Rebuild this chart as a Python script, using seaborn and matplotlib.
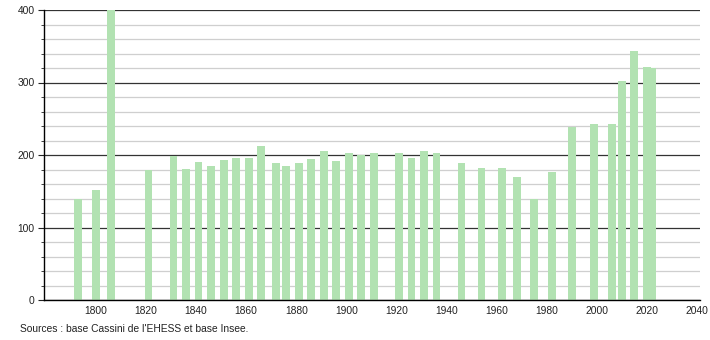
import numpy as np
import pandas as pd
import matplotlib
matplotlib.use("Agg")
import matplotlib.pyplot as plt
from matplotlib.ticker import MultipleLocator
import seaborn as sns

years = [1793, 1800, 1806, 1821, 1831, 1836, 1841, 1846, 1851, 1856, 1861, 1866,
         1872, 1876, 1881, 1886, 1891, 1896, 1901, 1906, 1911, 1921, 1926, 1931,
         1936, 1946, 1954, 1962, 1968, 1975, 1982, 1990, 1999, 2006, 2010, 2015,
         2020, 2022]
population = [139, 152, 400, 179, 198, 181, 190, 185, 193, 196, 196, 212,
              189, 185, 189, 194, 205, 192, 203, 200, 203, 203, 196, 206,
              203, 189, 182, 182, 170, 139, 176, 238, 243, 243, 302, 343,
              322, 320]
x_ticks = list(range(1800, 2041, 20))
y_ticks = [0, 100, 200, 300, 400]
source_text = "Sources : base Cassini de l'EHESS et base Insee."

sns.set_style("white")
plt.rcParams['font.family'] = ['Liberation Sans', 'DejaVu Sans']

df = pd.DataFrame({"year": years, "pop": population})

fig = plt.figure(figsize=(7.1, 3.4), dpi=100)
ax = fig.add_axes([44.3 / 710, 40 / 340, (700 - 44.3) / 710, 290 / 340])

bar_years = 3.1
native_unit = np.min(np.diff(np.unique(years)))
sns.barplot(data=df, x="year", y="pop", native_scale=True, width=bar_years / native_unit,
            color="#b2e2b2", saturation=1, errorbar=None, linewidth=0, ax=ax, zorder=2)

ax.set_xlim(1779.4, 2041.2)
ax.set_ylim(0, 400)
ax.set_xticks(x_ticks)
ax.set_xticklabels([str(t) for t in x_ticks])
ax.set_yticks(y_ticks)
ax.yaxis.set_minor_locator(MultipleLocator(20))
ax.set_axisbelow(True)
ax.grid(False)
ax.grid(which="major", axis="y", color="#333333", linewidth=0.9)
ax.grid(which="minor", axis="y", color="#cfcfcf", linewidth=0.9)
ax.set_xlabel("")
ax.set_ylabel("")

for s in ["top", "right"]:
    ax.spines[s].set_visible(False)
for s in ["left", "bottom"]:
    ax.spines[s].set_color("#000000")
    ax.spines[s].set_linewidth(1.0)

fs = 7.4
ax.tick_params(axis="x", which="both", length=0, pad=4, labelsize=fs, colors="#222222")
ax.tick_params(axis="y", which="major", length=4, width=0.8, pad=3, left=True,
               labelsize=fs, colors="#222222")
ax.tick_params(axis="y", which="minor", length=2, width=0.6, left=True, color="#222222")

fig.text(20 / 710, 11 / 340, source_text, fontsize=fs, color="#222222",
         ha="left", va="center")

fig.savefig("out.png", dpi=100)
